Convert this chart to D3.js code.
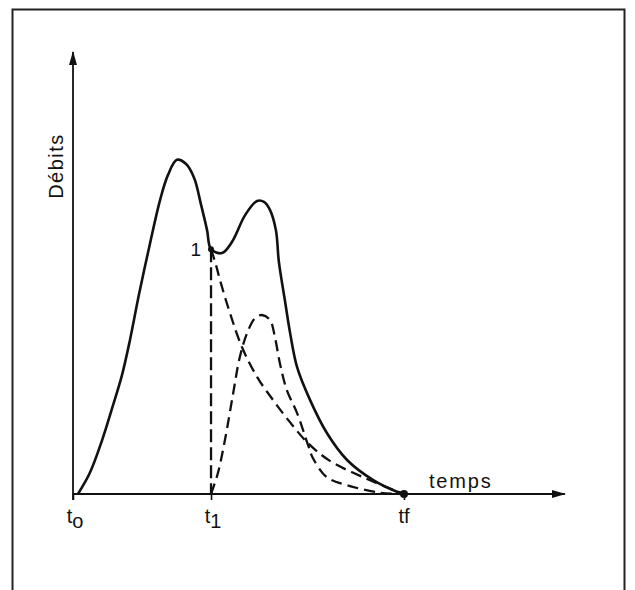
<!DOCTYPE html>
<html>
<head>
<meta charset="utf-8">
<script src="https://cdn.jsdelivr.net/npm/d3@7"></script>
<style>
  body { margin: 0; background: #fff; }
  svg { display: block; }
  text { font-family: "Liberation Sans", Arial, Helvetica, sans-serif; fill: #111; }
</style>
</head>
<body>
<div id="chart"></div>
<script>

// time ticks (t0, t1, tf) and their labels
const tickTimes = [0, 4.17, 10];
const tickMain = ['t', 't', 'tf'];
const tickSub = ['o', '1', ''];

// total hydrograph (solid)
const totalT = [0.15, 0.51, 0.88, 1.21, 1.48, 1.72, 1.99, 2.33, 2.63, 2.87, 3.14, 3.41, 3.66, 3.87, 4.05, 4.17,
  4.5, 4.8, 5.2, 5.56, 5.77, 5.95, 6.13, 6.22, 6.4, 6.56, 6.77, 7.16, 7.67, 8.28, 9.06, 9.79, 10];
const totalQ = [0, 4.8, 12.2, 20.1, 26.9, 34.8, 45, 56.8, 66.5, 72.2, 75.6, 74.7, 71.5, 65.4, 59.7, 55.4,
  54.5, 57, 63.1, 66.3, 66.1, 64.3, 59.7, 52.5, 43.9, 36.4, 28.7, 21.3, 13.8, 7.7, 3.2, 0.5, 0];

// recession of the first flood after point 1 (dashed)
const recessT = [4.17, 4.32, 4.44, 4.74, 5.1, 5.56, 6.04, 6.56, 7.1, 7.76, 8.76, 9.79, 10];
const recessQ = [55.4, 51.8, 48.4, 41, 33.3, 26.5, 21.3, 16.2, 11.5, 7.5, 3.8, 0.6, 0];

// second flood starting at t1 (dashed)
const floodT = [4.17, 4.38, 4.59, 4.83, 5.04, 5.26, 5.5, 5.71, 5.95, 6.1, 6.25, 6.46, 6.77, 7.1, 7.25, 7.67, 8.28, 9.27, 10];
const floodQ = [0, 4.8, 12.2, 22.4, 31, 36.4, 39.8, 40.5, 39.4, 35.5, 29.6, 23.5, 18.3, 11.1, 8.1, 3.8, 2, 0.3, 0];

const width = 635, height = 590;

const svg = d3.select('#chart')
  .append('svg')
  .attr('width', width)
  .attr('height', height);

// frame (open at the bottom)
svg.append('path')
  .attr('d', 'M12.5,590 L12.5,9.5 L624.5,9.5 L624.5,590')
  .attr('fill', 'none')
  .attr('stroke', '#222')
  .attr('stroke-width', 2);

const x = d3.scaleLinear().domain([0, 10]).range([73, 404]);
const y = d3.scaleLinear().domain([0, 100]).range([494, 52]);

const defs = svg.append('defs');
defs.append('marker')
  .attr('id', 'arrow')
  .attr('viewBox', '0 0 14 8')
  .attr('refX', 13)
  .attr('refY', 4)
  .attr('markerWidth', 14)
  .attr('markerHeight', 8)
  .attr('markerUnits', 'userSpaceOnUse')
  .attr('orient', 'auto')
  .append('path')
  .attr('d', 'M0,0 L14,4 L0,8 Z')
  .attr('fill', '#111');

// axes
svg.append('line')
  .attr('x1', x(0)).attr('y1', y(0) + 6)
  .attr('x2', x(0)).attr('y2', y(100))
  .attr('stroke', '#111').attr('stroke-width', 1.8)
  .attr('marker-end', 'url(#arrow)');

svg.append('line')
  .attr('x1', x(0)).attr('y1', y(0))
  .attr('x2', x(14.86)).attr('y2', y(0))
  .attr('stroke', '#111').attr('stroke-width', 1.8)
  .attr('marker-end', 'url(#arrow)');

const xAxis = svg.append('g')
  .attr('transform', `translate(0,${y(0)})`)
  .call(d3.axisBottom(x).tickValues(tickTimes).tickSize(6).tickFormat(''));
xAxis.select('.domain').remove();
xAxis.selectAll('.tick line').attr('stroke', '#111').attr('stroke-width', 1.6);

const labels = svg.selectAll('.tlabel')
  .data(tickTimes)
  .enter()
  .append('text')
  .attr('class', 'tlabel')
  .attr('x', (d, i) => x(d) + (tickSub[i] ? 2 : 0))
  .attr('y', 523)
  .attr('text-anchor', 'middle')
  .attr('font-size', 20);
labels.append('tspan').text((d, i) => tickMain[i]);
labels.append('tspan')
  .attr('dy', 5)
  .text((d, i) => tickSub[i]);

svg.append('text')
  .attr('transform', 'translate(63,166) rotate(-90)')
  .attr('text-anchor', 'middle')
  .attr('font-size', 20)
  .attr('letter-spacing', 1.5)
  .text('Débits');

svg.append('text')
  .attr('x', 429)
  .attr('y', 488)
  .attr('font-size', 20)
  .attr('letter-spacing', 1.8)
  .text('temps');

const line = d3.line()
  .curve(d3.curveCatmullRom.alpha(0.5))
  .x(d => x(d[0]))
  .y(d => y(d[1]));

const zip = (ts, qs) => ts.map((t, i) => [t, qs[i]]);

svg.append('path')
  .datum(zip(totalT, totalQ))
  .attr('d', line)
  .attr('fill', 'none')
  .attr('stroke', '#111')
  .attr('stroke-width', 2.6);

svg.append('path')
  .datum(zip(recessT, recessQ))
  .attr('d', line)
  .attr('fill', 'none')
  .attr('stroke', '#111')
  .attr('stroke-width', 2.3)
  .attr('stroke-dasharray', '11,6');

svg.append('path')
  .datum(zip(floodT, floodQ))
  .attr('d', line)
  .attr('fill', 'none')
  .attr('stroke', '#111')
  .attr('stroke-width', 2.3)
  .attr('stroke-dasharray', '11,6');

// vertical separation at t1
svg.append('line')
  .attr('x1', x(tickTimes[1])).attr('y1', y(totalQ[15]))
  .attr('x2', x(tickTimes[1])).attr('y2', y(0))
  .attr('stroke', '#111')
  .attr('stroke-width', 2.3)
  .attr('stroke-dasharray', '13,5');

// points 1 and tf
svg.selectAll('.pt')
  .data([[tickTimes[1], totalQ[15], 3], [tickTimes[2], 0, 4]])
  .enter()
  .append('circle')
  .attr('cx', d => x(d[0]))
  .attr('cy', d => y(d[1]))
  .attr('r', d => d[2])
  .attr('fill', '#111');

svg.append('text')
  .attr('x', x(tickTimes[1]) - 10)
  .attr('y', y(totalQ[15]) + 7)
  .attr('text-anchor', 'end')
  .attr('font-size', 19)
  .text('1');

</script>
</body>
</html>
